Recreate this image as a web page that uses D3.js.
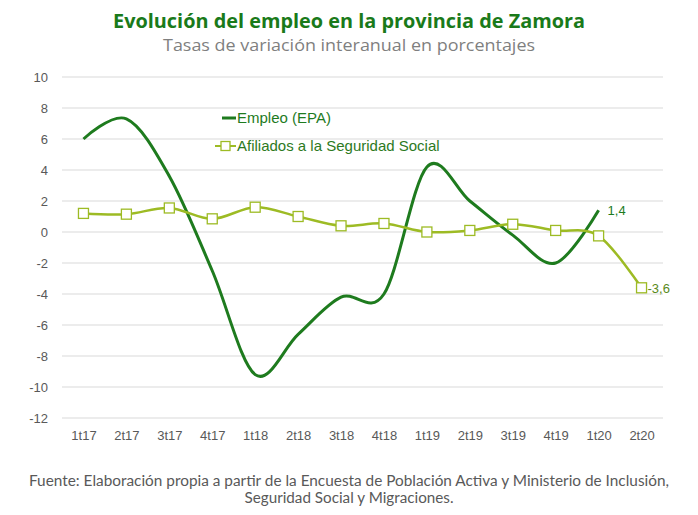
<!DOCTYPE html>
<html><head><meta charset="utf-8">
<script src="https://cdn.jsdelivr.net/npm/d3@7"></script>
<style>body{margin:0;background:#fff}svg{display:block}</style>
</head><body>
<script>
const categories = ["1t17","2t17","3t17","4t17","1t18","2t18","3t18","4t18","1t19","2t19","3t19","4t19","1t20","2t20"];
const empleo = [6.0, 7.3, 3.6, -2.5, -9.2, -6.6, -4.2, -4.0, 4.2, 2.0, -0.2, -2.0, 1.4];
const afiliados = [1.2, 1.15, 1.55, 0.85, 1.6, 1.0, 0.4, 0.55, 0.0, 0.1, 0.5, 0.1, -0.25, -3.6];
const yTicks = [10, 8, 6, 4, 2, 0, -2, -4, -6, -8, -10, -12];
const seriesNames = ["Empleo (EPA)", "Afiliados a la Seguridad Social"];
const title = "Evolución del empleo en la provincia de Zamora";
const subtitle = "Tasas de variación interanual en porcentajes";
const source = ["Fuente: Elaboración propia a partir de la Encuesta de Población Activa y Ministerio de Inclusión,", "Seguridad Social y Migraciones."];

const W = 698, H = 515;
const cDark = "#1e7b1e", cLight = "#9dbb24";
const svg = d3.select("body").append("svg").attr("width", W).attr("height", H);

const x = d3.scalePoint().domain(categories).range([62, 663]).padding(0.5);
const y = d3.scaleLinear().domain([-12, 10]).range([418, 77]);

// gridlines
svg.append("g").selectAll("line").data(yTicks).join("line")
  .attr("x1", 62).attr("x2", 663)
  .attr("y1", d => y(d)).attr("y2", d => y(d))
  .attr("stroke", "#d9d9d9").attr("stroke-width", 1);

// y axis
const yAxis = d3.axisLeft(y).tickValues(yTicks).tickSize(0).tickPadding(0).tickFormat(d => d);
const gy = svg.append("g").attr("transform", "translate(48,0)").call(yAxis);
gy.select(".domain").remove();
gy.selectAll("text").attr("fill", "#595959").attr("font-family", "Liberation Sans, Arial, sans-serif").attr("font-size", 13);

// x axis
const xAxis = d3.axisBottom(x).tickSize(0).tickPadding(0);
const gx = svg.append("g").attr("transform", "translate(0,431)").call(xAxis);
gx.select(".domain").remove();
gx.selectAll("text").attr("fill", "#595959").attr("font-family", "Liberation Sans, Arial, sans-serif").attr("font-size", 13);

// lines
const lineE = d3.line().x((d, i) => x(categories[i])).y(d => y(d)).curve(d3.curveCatmullRom.alpha(0));
svg.append("path").datum(empleo).attr("d", lineE).attr("fill", "none").attr("stroke", cDark).attr("stroke-width", 3);

const lineA = d3.line().x((d, i) => x(categories[i])).y(d => y(d)).curve(d3.curveCatmullRom.alpha(0));
svg.append("path").datum(afiliados).attr("d", lineA).attr("fill", "none").attr("stroke", cLight).attr("stroke-width", 2.5);

svg.append("g").selectAll("rect").data(afiliados).join("rect")
  .attr("x", (d, i) => x(categories[i]) - 5).attr("y", d => y(d) - 5)
  .attr("width", 10).attr("height", 10)
  .attr("fill", "#fff").attr("stroke", cLight).attr("stroke-width", 1.3);

// data labels
const fmt = v => String(v).replace(".", ",");
const lastE = empleo.length - 1, lastA = afiliados.length - 1;
svg.append("text").attr("x", x(categories[lastE]) + 9).attr("y", y(empleo[lastE]) + 5)
  .attr("fill", cDark).attr("font-family", "Liberation Sans, Arial, sans-serif").attr("font-size", 13).text(fmt(empleo[lastE]));
svg.append("text").attr("x", x(categories[lastA]) + 6).attr("y", y(afiliados[lastA]) + 5)
  .attr("fill", "#5a8a1a").attr("font-family", "Liberation Sans, Arial, sans-serif").attr("font-size", 13).text(fmt(afiliados[lastA]));

// legend
const lg = svg.append("g");
lg.append("line").attr("x1", 222).attr("x2", 236).attr("y1", 118).attr("y2", 118).attr("stroke", cDark).attr("stroke-width", 3);
lg.append("text").attr("x", 237).attr("y", 123).attr("fill", cDark).attr("font-family", "Liberation Sans, Arial, sans-serif").attr("font-size", 15).text(seriesNames[0]);
lg.append("line").attr("x1", 215).attr("x2", 236).attr("y1", 146).attr("y2", 146).attr("stroke", cLight).attr("stroke-width", 2);
lg.append("rect").attr("x", 221).attr("y", 141.5).attr("width", 9).attr("height", 9).attr("fill", "#fff").attr("stroke", cLight).attr("stroke-width", 1.3);
lg.append("text").attr("x", 237).attr("y", 151).attr("fill", "#2d7a1e").attr("font-family", "Liberation Sans, Arial, sans-serif").attr("font-size", 15).text(seriesNames[1]);

// titles
svg.append("text").attr("x", 349).attr("y", 28).attr("text-anchor", "middle")
  .attr("fill", "#1a7a1a").attr("font-family", "Open Sans, sans-serif").attr("font-weight", "bold").attr("font-size", 20)
  .attr("textLength", 472).attr("lengthAdjust", "spacingAndGlyphs").text(title);
svg.append("text").attr("x", 349).attr("y", 51).attr("text-anchor", "middle")
  .attr("fill", "#7f7f7f").attr("font-family", "Open Sans, sans-serif").attr("font-size", 17)
  .attr("textLength", 372).attr("lengthAdjust", "spacingAndGlyphs").text(subtitle);

// source
svg.append("text").attr("x", 349).attr("y", 486).attr("text-anchor", "middle")
  .attr("fill", "#595959").attr("font-family", "Lato, sans-serif").attr("font-size", 14.5)
  .attr("textLength", 640).attr("lengthAdjust", "spacingAndGlyphs").text(source[0]);
svg.append("text").attr("x", 349).attr("y", 503).attr("text-anchor", "middle")
  .attr("fill", "#595959").attr("font-family", "Lato, sans-serif").attr("font-size", 14.5)
  .attr("textLength", 209).attr("lengthAdjust", "spacingAndGlyphs").text(source[1]);
</script>
</body></html>
